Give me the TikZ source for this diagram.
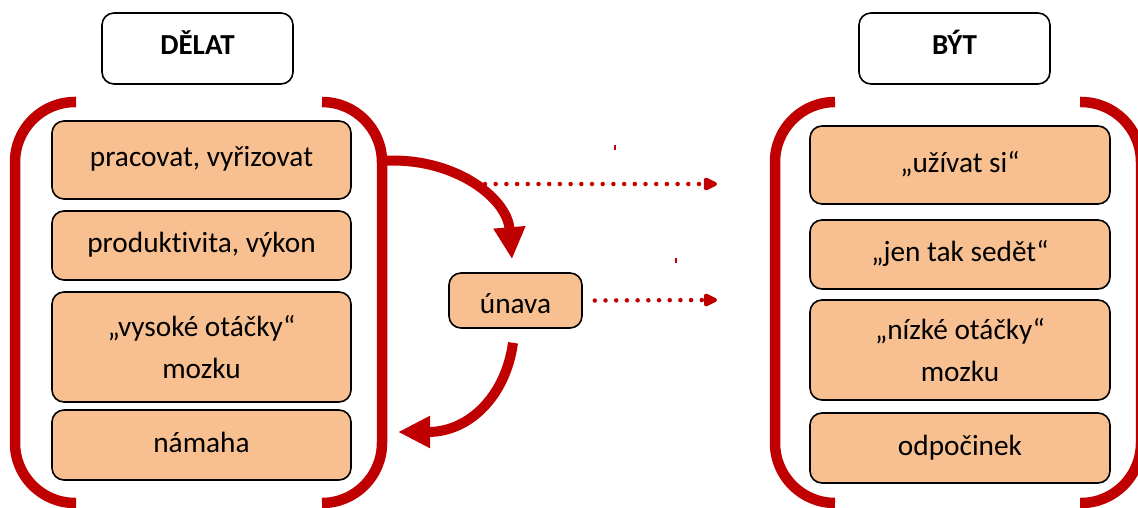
\documentclass[tikz,border=0pt]{standalone}
\usepackage{fontspec}
\setmainfont{Carlito}[Ligatures=NoCommon]
\usetikzlibrary{arrows.meta}
\definecolor{accent}{HTML}{C00000}
\definecolor{boxfill}{HTML}{F8C090}
\tikzset{
  item/.style={draw=black, line width=1.6pt, rounded corners=12pt, fill=boxfill,
    font=\fontsize{29.3}{41}\selectfont, inner sep=0pt, text height=20pt, text depth=6pt},
  itemtwo/.style={draw=black, line width=1.6pt, rounded corners=12pt, fill=boxfill,
    font=\fontsize{29.3}{41.5}\selectfont, inner sep=0pt, align=center},
  title/.style={draw=black, line width=1.6pt, rounded corners=12pt, fill=white,
    font=\bfseries\fontsize{29}{34}\selectfont, inner sep=0pt,
    minimum width=191pt, minimum height=71pt, text height=19pt, text depth=6pt},
  bracket/.style={draw=accent, line width=10.5pt, rounded corners=60pt},
  bigarrow/.style={draw=accent, line width=10pt, -{Triangle[length=32pt,width=30pt]}},
  dotarrow/.style={draw=accent, line width=4.5pt, line cap=round,
    dash pattern=on 0pt off 10.7pt, -{Triangle[length=16pt,width=14pt,round=false]}},
  tick/.style={draw=accent, line width=2pt}
}
\begin{document}
\begin{tikzpicture}[x=1pt, y=-1pt]
\useasboundingbox (0,0) rectangle (1138,508);

% column headings
\node[title] (delat) at (197.5,48.5) {DĚLAT};
\node[title] (byt) at (954.5,48.5) {BÝT};

% brackets round the left column
\draw[bracket] (76,102) -- (15,102) -- (15,503) -- (76,503);
\draw[bracket] (322,102) -- (382,102) -- (382,503) -- (322,503);
% brackets round the right column
\draw[bracket] (835,102) -- (775,102) -- (775,503) -- (835,503);
\draw[bracket] (1080,102) -- (1141,102) -- (1141,503) -- (1080,503);

% left column
\node[item, minimum width=299pt, minimum height=78pt] (l1) at (201.5,160) {pracovat, vyřizovat};
\node[item, minimum width=299pt, minimum height=69pt] (l2) at (201.5,245.5) {produktivita, výkon};
\node[itemtwo, minimum width=299pt, minimum height=110pt] (l3) at (201.5,347) {„vysoké otáčky“\\mozku};
\node[item, minimum width=299pt, minimum height=70pt] (l4) at (201.5,445) {námaha};

% right column
\node[item, minimum width=300pt, minimum height=78pt] (r1) at (960,165) {„užívat si“};
\node[item, minimum width=300pt, minimum height=69pt] (r2) at (960,254.5) {„jen tak sedět“};
\node[itemtwo, minimum width=300pt, minimum height=100pt] (r3) at (960,350) {„nízké otáčky“\\mozku};
\node[item, minimum width=300pt, minimum height=70pt] (r4) at (960,448) {odpočinek};

% fatigue in the middle
\node[item, minimum width=133pt, minimum height=55pt, text height=25pt, text depth=0pt] (un) at (515.5,300.5) {únava};

% cycle: work -> fatigue -> effort
\coordinate (out) at (382,161);
\coordinate (back) at (398,432);
\draw[bigarrow] (out) .. controls (452,156) and (507,197) .. ([shift={(-3.5,-13)}]un.north);
\draw[bigarrow] ([shift={(-2.5,14)}]un.south) .. controls (506,395) and (470,432) .. (back);

% dotted arrows towards the right column
\coordinate (d1s) at (485,184);
\coordinate (d1e) at (717,184);
\coordinate (d2e) at (717,300);
\draw[dotarrow] (d1s) -- (d1e);
\draw[dotarrow] ([xshift=12pt]un.east) -- (d2e);

% small marks
\draw[tick] (615,145) -- (615,150);
\draw[tick] (676,258) -- (676,263);
\end{tikzpicture}
\end{document}
